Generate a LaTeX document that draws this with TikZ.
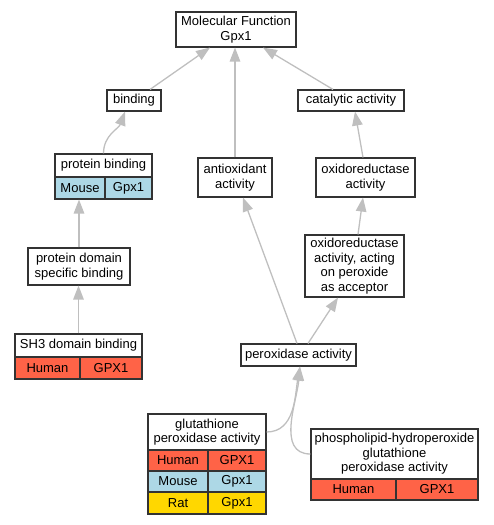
\documentclass[tikz,border=0pt]{standalone}
\usepackage{fontspec}
\setmainfont{Liberation Sans}
\usepackage{tikz}
\usetikzlibrary{arrows.meta}
\definecolor{human}{HTML}{FF6347}
\definecolor{mouse}{HTML}{ADD8E6}
\definecolor{rat}{HTML}{FFD700}

\tikzset{
  term/.style={shape=rectangle, draw=black!80, line width=1.1pt, fill=white, align=center, inner sep=1pt, font=\fontsize{13}{14.5}\selectfont},
  cell/.style={term, fill=#1},
  isa/.style={draw=black!25, line width=1.3pt, -{Triangle[length=14pt,width=10.5pt]}},
}

\begin{document}
\begin{tikzpicture}[x=1pt,y=-1pt]
        \useasboundingbox (0,0) rectangle (493,525);

        \node[term, minimum width=120pt, minimum height=35pt] (mf) at (236, 29.5) {Molecular Function\\Gpx1};
        \node[term, minimum width=54pt, minimum height=21pt] (bind) at (134, 100.5) {binding};
        \node[term, minimum width=106pt, minimum height=21pt] (cat) at (351, 100.5) {catalytic activity};

        % protein binding table
        \node[term, minimum width=97pt, minimum height=23pt] (pbt) at (103.5, 165.5) {protein binding};
        \node[cell=mouse, minimum width=50pt, minimum height=22pt] (pbm) at (80, 188) {Mouse};
        \node[cell=mouse, minimum width=47pt, minimum height=22pt] (pbg) at (128.5, 188) {Gpx1};

        \node[term, minimum width=74pt, minimum height=39pt] (anti) at (235, 177.5) {antioxidant\\activity};
        \node[term, minimum width=99pt, minimum height=39pt] (oxi) at (365.5, 177.5) {oxidoreductase\\activity};
        \node[term, minimum width=102pt, minimum height=37pt] (pdsb) at (79, 266.5) {protein domain\\specific binding};
        \node[term, minimum width=99pt, minimum height=62pt] (oap) at (354.5, 266) {oxidoreductase\\activity, acting\\on peroxide\\as acceptor};

        % SH3 domain binding table
        \node[term, minimum width=127pt, minimum height=23pt] (sh3t) at (78.5, 345.5) {SH3 domain binding};
        \node[cell=human, minimum width=65pt, minimum height=22pt] (sh3h) at (47.5, 368) {Human};
        \node[cell=human, minimum width=62pt, minimum height=22pt] (sh3g) at (111, 368) {GPX1};

        \node[term, minimum width=115pt, minimum height=22pt] (perox) at (298.5, 355) {peroxidase activity};

        % glutathione peroxidase table
        \node[term, minimum width=118pt, minimum height=36pt] (gpat) at (207, 432) {glutathione\\peroxidase activity};
        \node[cell=human, minimum width=60pt, minimum height=21pt] (gpah) at (178, 460.5) {Human};
        \node[cell=human, minimum width=58pt, minimum height=21pt] (gpahg) at (237, 460.5) {GPX1};
        \node[cell=mouse, minimum width=60pt, minimum height=21pt] (gpam) at (178, 481.5) {Mouse};
        \node[cell=mouse, minimum width=58pt, minimum height=21pt] (gpamg) at (237, 481.5) {Gpx1};
        \node[cell=rat, minimum width=60pt, minimum height=22pt] (gpar) at (178, 503) {Rat};
        \node[cell=rat, minimum width=58pt, minimum height=22pt] (gparg) at (237, 503) {Gpx1};

        % phospholipid-hydroperoxide table
        \node[term, minimum width=167pt, minimum height=50pt] (phgt) at (394.5, 454) {phospholipid-hydroperoxide\\glutathione\\peroxidase activity};
        \node[cell=human, minimum width=85pt, minimum height=21pt] (phgh) at (353.5, 489.5) {Human};
        \node[cell=human, minimum width=82pt, minimum height=21pt] (phgg) at (437, 489.5) {GPX1};

        \draw[isa] ([xshift=16pt]bind.north) -- ([xshift=-26pt]mf.south);
        \draw[isa] (anti.north) -- (anti.north |- mf.south);
        \draw[isa] ([xshift=-18pt]cat.north) -- ([xshift=27pt]mf.south);

        \draw[isa] (pbt.north) to[out=90, in=-110] ([xshift=-9pt]bind.south);
        \draw[isa] ([xshift=-2.5pt]oxi.north) -- ([xshift=4pt]cat.south);

        \draw[isa] (pdsb.north) -- (pdsb.north |- pbm.south);
        \draw[isa] ([xshift=3.5pt]oap.north) -- ([xshift=-2.5pt]oxi.south);

        \draw[isa] (sh3t.north) -- (sh3t.north |- pdsb.south);
        \draw[isa] ([xshift=-1.5pt]perox.north) -- ([xshift=8pt]anti.south);
        \draw[isa] ([xshift=9.5pt]perox.north) -- ([xshift=-16.5pt]oap.south);

        \draw[isa] (gpat.east) to[out=0, in=-100] ([xshift=1.5pt]perox.south);
        \draw[isa] (phgt.west) to[out=180, in=-95] ([xshift=1.5pt]perox.south);
\end{tikzpicture}
\end{document}
